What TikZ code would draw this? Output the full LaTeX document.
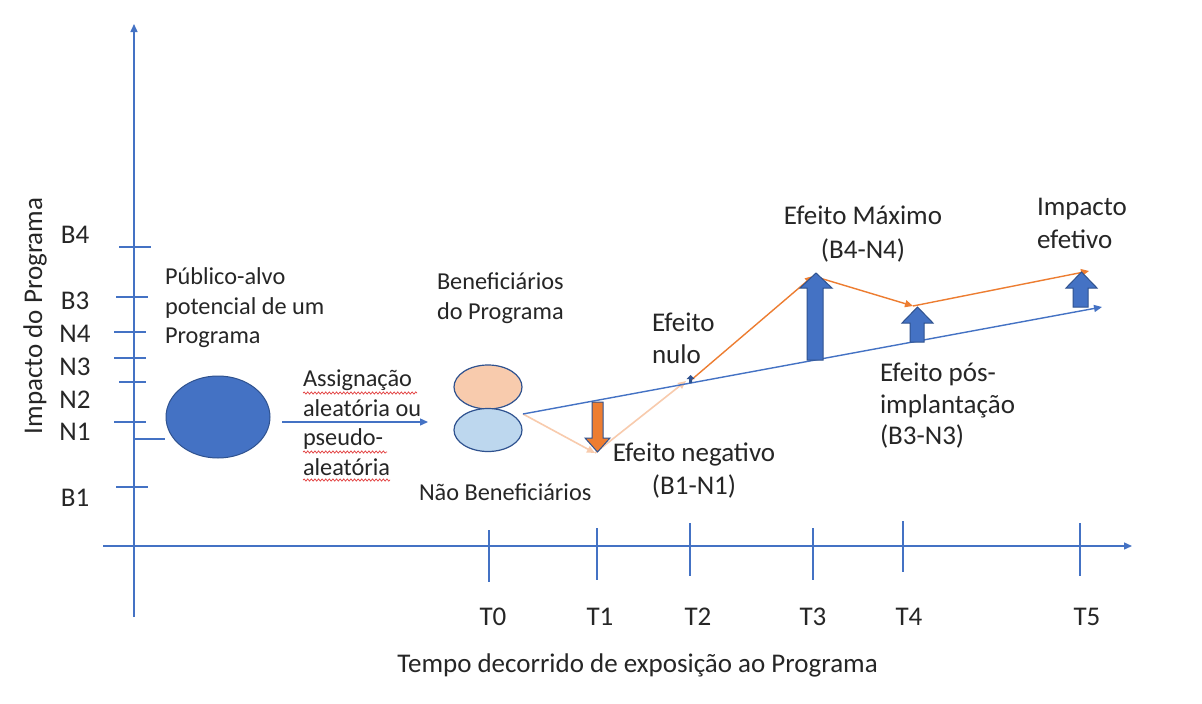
\documentclass[tikz,border=0pt]{standalone}
\usepackage{fontspec}
\setmainfont{Carlito}
\usetikzlibrary{arrows.meta,decorations.pathmorphing,shapes.geometric}
\definecolor{axblue}{HTML}{4472C4}
\definecolor{edgeblue}{HTML}{2F528F}
\definecolor{orangeA}{HTML}{ED7D31}
\definecolor{peach}{HTML}{F8CBAD}
\definecolor{lightblue}{HTML}{BDD7EE}
\definecolor{txt}{HTML}{262626}
\definecolor{squig}{HTML}{E23B3B}
\begin{document}
\begin{tikzpicture}[x=1pt,y=-1pt,
  every node/.style={font=\fontsize{27}{30}\selectfont, text=txt, inner sep=0pt, outer sep=0pt},
  axis/.style={draw=axblue, line width=1.4pt},
  tickline/.style={draw=axblue, line width=1.1pt},
  tipA/.style={-{Triangle[length=8pt,width=7pt]}},
  bluelink/.style={draw=axblue, line width=1.4pt, tipA},
  orangelink/.style={draw=orangeA, line width=1.4pt, tipA},
  peachlink/.style={draw=peach, line width=1.6pt, tipA},
  blockblue/.style={fill=axblue, draw=edgeblue, line width=1pt},
  blockorange/.style={fill=orangeA, draw=edgeblue, line width=1pt},
  squiggle/.style={draw=squig, line width=0.7pt, decorate, decoration={snake, amplitude=1.1pt, segment length=3.6pt}},
  lbl/.style={align=left, anchor=north west},
  clbl/.style={align=center, anchor=north},
  smalltext/.style={font=\fontsize{24.3}{29.5}\selectfont}]
\useasboundingbox (0,0) rectangle (1202,704);
\fill[white] (0,0) rectangle (1202,704);

% axes
\coordinate (yb) at (134,617);
\coordinate (yt) at (134,24);
\coordinate (xl) at (103,546);
\coordinate (xr) at (1132,546);
\draw[axis, tipA] (yb) -- (yt);
\draw[axis, tipA] (xl) -- (xr);

% x ticks
\draw[tickline] (489,530) -- (489,582);
\draw[tickline] (597,528) -- (597,580);
\draw[tickline] (690,523) -- (690,576);
\draw[tickline] (813,528) -- (813,580);
\draw[tickline] (903,521) -- (903,572);
\draw[tickline] (1080,523) -- (1080,576);

% y ticks
\draw[tickline] (119,247) -- (151,247);
\draw[tickline] (116,297) -- (148,297);
\draw[tickline] (114,332) -- (146,332);
\draw[tickline] (114,358) -- (146,358);
\draw[tickline] (119,382) -- (146,382);
\draw[tickline] (114,422) -- (146,422);
\draw[tickline] (134,439) -- (165,439);
\draw[tickline] (116,487) -- (148,487);

% axis labels
\node[rotate=90] (ylab) at (35,316) {Impacto do Programa};
\node[anchor=base] (xlab) at (637.5,672) {Tempo decorrido de exposição ao Programa};

\node[anchor=base] (t0) at (493,625) {T0};
\node[anchor=base] (t1) at (600,625) {T1};
\node[anchor=base] (t2) at (698,625) {T2};
\node[anchor=base] (t3) at (813,625) {T3};
\node[anchor=base] (t4) at (909,625) {T4};
\node[anchor=base] (t5) at (1087,625) {T5};

\node[anchor=base] (lb4) at (75,243) {B4};
\node[anchor=base] (lb3) at (75,309) {B3};
\node[anchor=base] (ln4) at (75,342) {N4};
\node[anchor=base] (ln3) at (75,375) {N3};
\node[anchor=base] (ln2) at (75,408) {N2};
\node[anchor=base] (ln1) at (75,440) {N1};
\node[anchor=base] (lb1) at (75,506) {B1};

% population ellipse
\node[ellipse, fill=axblue, draw=edgeblue, line width=1pt, minimum width=104pt, minimum height=82pt] (pop) at (218,417) {};
\node[lbl, smalltext] (publico) at (165,268) {Público-alvo\\potencial de um\\Programa};

% assignment arrow
\coordinate (a1) at (282,422);
\coordinate (a2) at (428,422);
\draw[bluelink] (a1) -- (a2);
\node[lbl, smalltext] (assign) at (303,370) {Assignação\\aleatória ou\\pseudo-\\aleatória};
\draw[squiggle] (303,393) -- (417,393);
\draw[squiggle] (303,452) -- (387,452);
\draw[squiggle] (303,480) -- (390,480);

% group ellipses
\node[ellipse, fill=peach, draw=edgeblue, line width=1.2pt, minimum width=68pt, minimum height=44pt] (ben) at (488,387) {};
\node[ellipse, fill=lightblue, draw=edgeblue, line width=1.2pt, minimum width=68pt, minimum height=43pt] (nben) at (488,430) {};
\node[lbl, smalltext] (benlbl) at (437,273) {Beneficiários\\do Programa};
\node[anchor=base west, smalltext] (nbenlbl) at (419,500) {Não Beneficiários};

% trajectory lines
\coordinate (b0) at (523,414);
\coordinate (b5) at (1102,307);
\coordinate (pn) at (595,453);
\coordinate (p2) at (686,381);
\coordinate (o2) at (690,381);
\coordinate (o3) at (813,276);
\coordinate (o4) at (913,306);
\coordinate (o5) at (1089,271);
\draw[peachlink] (b0) -- (pn);
\draw[peachlink] (pn) -- (p2);
\draw[bluelink] (b0) -- (b5);
\draw[orangelink] (o2) -- (o3);
\draw[orangelink] (o3) -- (o4);
\draw[orangelink] (o4) -- (o5);

% block arrows
\draw[blockorange] (592,402) -- (603,402) -- (603,438) -- (610,438) -- (597.5,452) -- (585,438) -- (592,438) -- cycle;
\draw[blockblue] (807,360) -- (807,288) -- (800,288) -- (816,273) -- (832,288) -- (823,288) -- (823,360) -- cycle;
\draw[blockblue] (910,342) -- (910,323) -- (902,323) -- (917.5,307) -- (933,323) -- (924,323) -- (924,342) -- cycle;
\draw[blockblue] (1073,307) -- (1073,288) -- (1066,288) -- (1081.5,272) -- (1097,288) -- (1088,288) -- (1088,307) -- cycle;
\fill[edgeblue] (689,383) -- (689,379) -- (686.5,379) -- (690.5,375) -- (694.5,379) -- (692,379) -- (692,383) -- cycle;

% effect labels
\node[lbl, font=\fontsize{27}{32}\selectfont] (nulo) at (652,313) {Efeito\\nulo};
\node[clbl, font=\fontsize{27}{33}\selectfont] (neg) at (694,443) {Efeito negativo\\(B1-N1)};
\node[clbl, font=\fontsize{27}{34}\selectfont] (max) at (863,206) {Efeito Máximo\\(B4-N4)};
\node[lbl, font=\fontsize{27}{33}\selectfont] (imp) at (1037,198) {Impacto\\efetivo};
\node[lbl, font=\fontsize{27}{31.5}\selectfont] (pos) at (880,363) {Efeito pós-\\implantação\\(B3-N3)};
\end{tikzpicture}
\end{document}
